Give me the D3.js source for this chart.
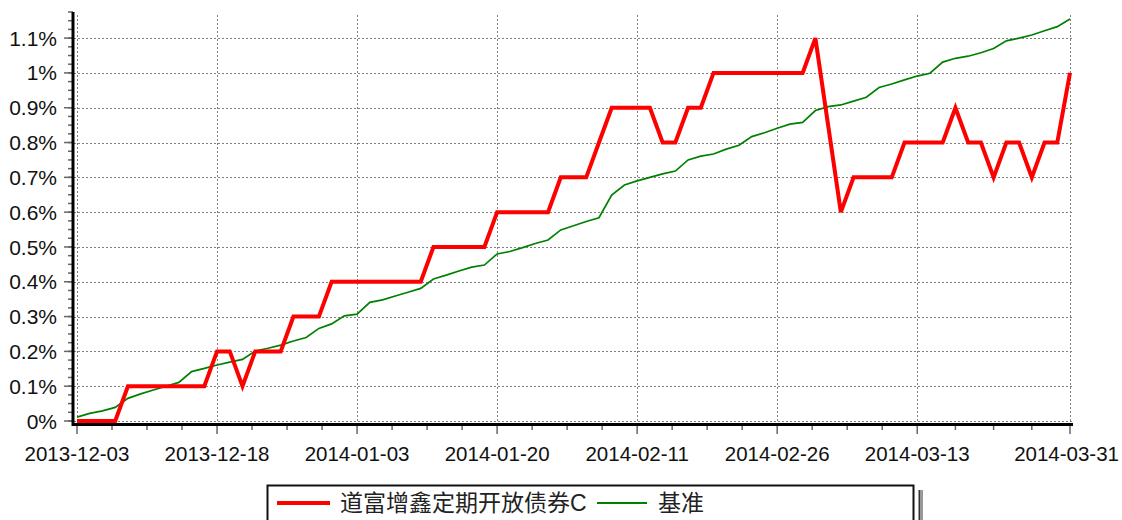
<!DOCTYPE html>
<html>
<head>
<meta charset="utf-8">
<script src="https://cdn.jsdelivr.net/npm/d3@7"></script>
<style>
  html, body { margin: 0; padding: 0; background: #fff; }
  svg { display: block; font-family: "Liberation Sans", Arial, "Noto Sans CJK SC", sans-serif; }
</style>
</head>
<body>
<div id="chart"></div>
<script>
// trading days shown on the chart
const dates = [
  "2013-12-03","2013-12-04","2013-12-05","2013-12-06","2013-12-09","2013-12-10","2013-12-11","2013-12-12","2013-12-13",
  "2013-12-16","2013-12-17","2013-12-18","2013-12-19","2013-12-20","2013-12-23","2013-12-24","2013-12-25","2013-12-26",
  "2013-12-27","2013-12-30","2013-12-31","2014-01-02","2014-01-03","2014-01-06","2014-01-07","2014-01-08","2014-01-09",
  "2014-01-10","2014-01-13","2014-01-14","2014-01-15","2014-01-16","2014-01-17","2014-01-20","2014-01-21","2014-01-22",
  "2014-01-23","2014-01-24","2014-01-27","2014-01-28","2014-01-29","2014-01-30","2014-02-07","2014-02-10","2014-02-11",
  "2014-02-12","2014-02-13","2014-02-14","2014-02-17","2014-02-18","2014-02-19","2014-02-20","2014-02-21","2014-02-24",
  "2014-02-25","2014-02-26","2014-02-27","2014-02-28","2014-03-03","2014-03-04","2014-03-05","2014-03-06","2014-03-07",
  "2014-03-10","2014-03-11","2014-03-12","2014-03-13","2014-03-14","2014-03-17","2014-03-18","2014-03-19","2014-03-20",
  "2014-03-21","2014-03-24","2014-03-25","2014-03-26","2014-03-27","2014-03-28","2014-03-31"
];

// cumulative return, %
const fundValues = [
  0, 0, 0, 0, 0.1, 0.1, 0.1, 0.1, 0.1, 0.1, 0.1, 0.2, 0.2, 0.1, 0.2, 0.2, 0.2, 0.3, 0.3, 0.3,
  0.4, 0.4, 0.4, 0.4, 0.4, 0.4, 0.4, 0.4, 0.5, 0.5, 0.5, 0.5, 0.5, 0.6, 0.6, 0.6, 0.6, 0.6, 0.7, 0.7,
  0.7, 0.8, 0.9, 0.9, 0.9, 0.9, 0.8, 0.8, 0.9, 0.9, 1.0, 1.0, 1.0, 1.0, 1.0, 1.0, 1.0, 1.0, 1.1, 0.85,
  0.6, 0.7, 0.7, 0.7, 0.7, 0.8, 0.8, 0.8, 0.8, 0.9, 0.8, 0.8, 0.7, 0.8, 0.8, 0.7, 0.8, 0.8, 1.0
];

const benchValues = [
  0.011, 0.022, 0.029, 0.039, 0.065, 0.078, 0.089, 0.100, 0.111, 0.142, 0.151, 0.161, 0.169, 0.177, 0.201, 0.209,
  0.218, 0.230, 0.240, 0.266, 0.279, 0.302, 0.307, 0.341, 0.348, 0.359, 0.370, 0.381, 0.408, 0.419, 0.431, 0.442,
  0.448, 0.480, 0.487, 0.498, 0.510, 0.520, 0.549, 0.561, 0.573, 0.584, 0.649, 0.678, 0.690, 0.700, 0.710, 0.718,
  0.750, 0.761, 0.767, 0.781, 0.792, 0.817, 0.828, 0.841, 0.853, 0.858, 0.892, 0.903, 0.908, 0.919, 0.930, 0.958,
  0.968, 0.980, 0.991, 0.999, 1.031, 1.042, 1.048, 1.058, 1.070, 1.092, 1.100, 1.109, 1.121, 1.133, 1.155
];

const tickDates = ["2013-12-03", "2013-12-18", "2014-01-03", "2014-01-20", "2014-02-11", "2014-02-26", "2014-03-13", "2014-03-31"];
const yTicks = [0, 0.1, 0.2, 0.3, 0.4, 0.5, 0.6, 0.7, 0.8, 0.9, 1.0, 1.1];
const seriesNames = ["道富增鑫定期开放债券C", "基准"];
const seriesColors = ["#ff0000", "#008000"];

const W = 1122, H = 520;
const svg = d3.select("#chart").append("svg").attr("width", W).attr("height", H);

const x = d3.scaleLinear().domain([0, dates.length - 1]).range([77, 1070]);
const y = d3.scaleLinear().domain([0, 1.175]).range([421, 12]);
const fmt = (v) => d3.format(".1~f")(v) + "%";

const tickIdx = tickDates.map((d) => dates.indexOf(d));
// 4 sub-divisions between each labelled date
const minorIdx = [];
for (let i = 0; i < tickIdx.length - 1; i++)
  for (let k = 1; k < 4; k++) minorIdx.push(tickIdx[i] + (tickIdx[i + 1] - tickIdx[i]) * k / 4);
const yMinor = d3.range(0, 1.176, 0.025);

const grid = svg.append("g").attr("stroke", "#808080").attr("stroke-width", 1).attr("stroke-dasharray", "2,2");
grid.selectAll("line.h").data(yTicks).join("line").attr("class", "h")
  .attr("x1", 74).attr("x2", x.range()[1] + 2)
  .attr("y1", (d) => Math.round(y(d)) + 0.5).attr("y2", (d) => Math.round(y(d)) + 0.5);
grid.selectAll("line.v").data(tickIdx).join("line").attr("class", "v")
  .attr("x1", (d) => Math.round(x(d)) + 0.5).attr("x2", (d) => Math.round(x(d)) + 0.5)
  .attr("y1", 15).attr("y2", 423);

// y ticks
const ticks = svg.append("g").attr("stroke", "#666").attr("stroke-width", 1.5);
ticks.selectAll("line.ym").data(yMinor).join("line").attr("class", "ym")
  .attr("x1", 68).attr("x2", 73).attr("y1", (d) => y(d)).attr("y2", (d) => y(d));
ticks.selectAll("line.yM").data(yTicks).join("line").attr("class", "yM")
  .attr("x1", 64).attr("x2", 73).attr("y1", (d) => y(d)).attr("y2", (d) => y(d));
// x ticks
ticks.selectAll("line.xm").data(minorIdx).join("line").attr("class", "xm")
  .attr("x1", (d) => x(d)).attr("x2", (d) => x(d)).attr("y1", 425).attr("y2", 430);
ticks.selectAll("line.xM").data(tickIdx).join("line").attr("class", "xM")
  .attr("x1", (d) => x(d)).attr("x2", (d) => x(d)).attr("y1", 425).attr("y2", 434);

// axis lines
svg.append("line").attr("x1", 73).attr("x2", 73).attr("y1", 12).attr("y2", 426)
  .attr("stroke", "#000").attr("stroke-width", 3);
svg.append("line").attr("x1", 72).attr("x2", 1073).attr("y1", 424.5).attr("y2", 424.5)
  .attr("stroke", "#000").attr("stroke-width", 3);

svg.append("g").selectAll("text").data(yTicks).join("text")
  .attr("x", 57).attr("y", (d) => y(d)).attr("dy", "0.36em")
  .attr("text-anchor", "end").attr("font-size", 21).attr("fill", "#111")
  .text(fmt);

// keep the last date label inside the picture
svg.append("g").selectAll("text").data(tickDates).join("text")
  .attr("x", (d, i) => (i === tickDates.length - 1 ? 1119 : x(dates.indexOf(d))))
  .attr("y", 460.5)
  .attr("text-anchor", (d, i) => (i === tickDates.length - 1 ? "end" : "middle"))
  .attr("font-size", 20.5).attr("fill", "#111")
  .text((d) => d);

const line = (vals) => d3.line().x((d, i) => x(i)).y((d) => y(d))(vals);
svg.append("path").attr("d", line(benchValues)).attr("fill", "none")
  .attr("stroke", seriesColors[1]).attr("stroke-width", 1.7);
svg.append("path").attr("d", line(fundValues)).attr("fill", "none")
  .attr("stroke", seriesColors[0]).attr("stroke-width", 4);

// legend
const lg = svg.append("g");
lg.append("rect").attr("x", 918).attr("y", 490).attr("width", 5).attr("height", 40).attr("fill", "#999");
lg.append("line").attr("x1", 919.5).attr("x2", 919.5).attr("y1", 490).attr("y2", 530).attr("stroke", "#333").attr("stroke-width", 1);
lg.append("rect").attr("x", 267.5).attr("y", 485.5).attr("width", 646).attr("height", 50)
  .attr("fill", "#fff").attr("stroke", "#111").attr("stroke-width", 2);
const items = [
  { x0: 277, x1: 330, tx: 340, w: 4 },
  { x0: 597, x1: 647, tx: 658, w: 2 },
];
items.forEach((it, i) => {
  lg.append("line").attr("x1", it.x0).attr("x2", it.x1).attr("y1", 503).attr("y2", 503)
    .attr("stroke", seriesColors[i]).attr("stroke-width", it.w);
  lg.append("text").attr("x", it.tx).attr("y", 511).attr("font-size", 23).attr("fill", "#222")
    .text(seriesNames[i]);
});
</script>
</body>
</html>
